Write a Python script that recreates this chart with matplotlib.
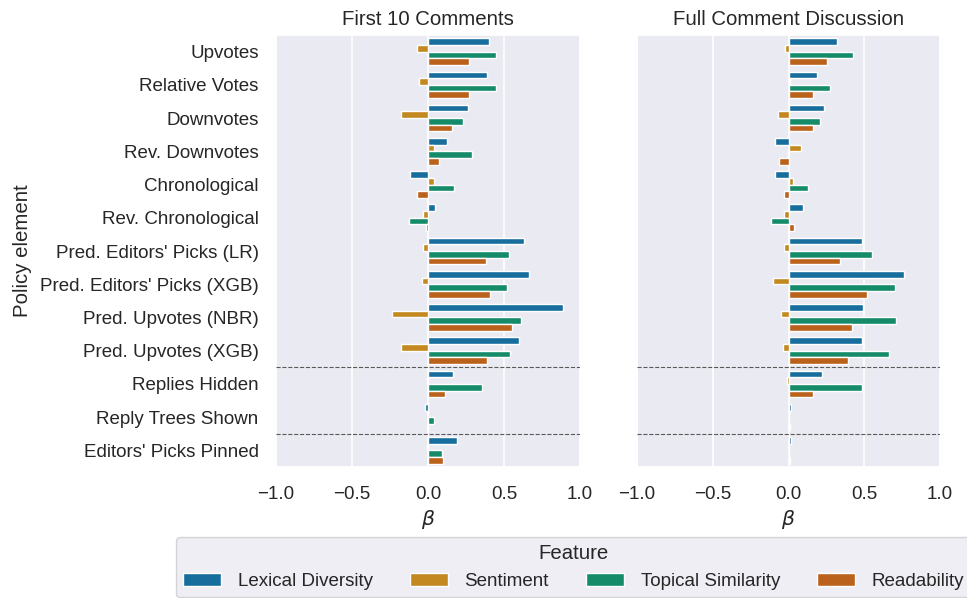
import matplotlib
matplotlib.use("Agg")
import matplotlib.pyplot as plt
import seaborn as sns
import numpy as np
from matplotlib.patches import Patch

sns.set_theme(style="darkgrid", context="notebook", font_scale=1.225)
plt.rcParams['font.family'] = ['Liberation Sans', 'DejaVu Sans']

policies = ["Upvotes", "Relative Votes", "Downvotes", "Rev. Downvotes", "Chronological",
            "Rev. Chronological", "Pred. Editors' Picks (LR)", "Pred. Editors' Picks (XGB)",
            "Pred. Upvotes (NBR)", "Pred. Upvotes (XGB)", "Replies Hidden",
            "Reply Trees Shown", "Editors' Picks Pinned"]
features = ["Lexical Diversity", "Sentiment", "Topical Similarity", "Readability"]
panel_titles = ["First 10 Comments", "Full Comment Discussion"]

# First 10 comments
first10_lexical = [0.40, 0.385, 0.26, 0.128, -0.117, 0.043, 0.633, 0.665, 0.887, 0.60, 0.167, -0.017, 0.19]
first10_sentiment = [-0.07, -0.06, -0.175, 0.037, 0.04, -0.03, -0.035, -0.04, -0.24, -0.18, -0.005, 0.0, -0.006]
first10_topical = [0.445, 0.445, 0.23, 0.29, 0.174, -0.126, 0.535, 0.52, 0.613, 0.54, 0.357, 0.037, 0.09]
first10_readability = [0.27, 0.27, 0.157, 0.07, -0.07, -0.013, 0.383, 0.41, 0.552, 0.39, 0.11, 0.0, 0.10]

# Full comment discussion
full_lexical = [0.318, 0.19, 0.234, -0.09, -0.089, 0.097, 0.483, 0.764, 0.494, 0.483, 0.219, 0.015, 0.017]
full_sentiment = [-0.02, 0.01, -0.07, 0.082, 0.03, -0.028, -0.028, -0.10, -0.05, -0.037, -0.011, 0.002, 0.0]
full_topical = [0.424, 0.275, 0.208, -0.004, 0.132, -0.117, 0.548, 0.706, 0.712, 0.665, 0.483, 0.0, 0.0]
full_readability = [0.255, 0.165, 0.162, -0.065, -0.032, 0.039, 0.34, 0.515, 0.418, 0.39, 0.16, 0.01, 0.01]

panels = [
    [first10_lexical, first10_sentiment, first10_topical, first10_readability],
    [full_lexical, full_sentiment, full_topical, full_readability],
]

base = sns.color_palette("colorblind", 4)
colors = [sns.desaturate(c, 0.75) for c in base]

W, H = 967, 598
fig = plt.figure(figsize=(W / 100, H / 100), dpi=100)
ax_l = fig.add_axes([276 / W, 1 - 467 / H, 304 / W, 432 / H])
ax_r = fig.add_axes([637 / W, 1 - 467 / H, 303 / W, 432 / H], sharey=ax_l)

y = np.arange(len(policies))
nh = len(features)
bh = 0.8 / nh
for ax, series, title in zip([ax_l, ax_r], panels, panel_titles):
    for i, (vals, col) in enumerate(zip(series, colors)):
        ax.barh(y - 0.4 + bh * (i + 0.5), vals, height=bh, color=col,
                edgecolor="white", linewidth=1.0, zorder=2)
    ax.axhline(9.5, color="0.35", linestyle="--", linewidth=0.8, zorder=3)
    ax.axhline(11.5, color="0.35", linestyle="--", linewidth=0.8, zorder=3)
    ax.set_xlim(-1, 1)
    ax.set_xticks([-1.0, -0.5, 0.0, 0.5, 1.0])
    ax.grid(axis="y", visible=False)
    ax.grid(axis="x", visible=True, color="white", linewidth=1.2)
    ax.set_axisbelow(True)
    ax.set_title(title, pad=7)
    ax.set_xlabel(r"$\beta$", labelpad=3.5)
    ax.tick_params(axis="x", pad=7.5)

ax_l.set_yticks(y)
ax_l.set_yticklabels(policies)
ax_l.set_ylim(len(policies) - 0.5, -0.5)
ax_l.tick_params(axis="y", pad=6.5)
ax_l.set_ylabel("Policy element", labelpad=6)
ax_r.tick_params(axis="y", labelleft=False)
ax_r.set_ylabel("")

handles = [Patch(facecolor=c, edgecolor="white", label=f) for c, f in zip(colors, features)]
fig.legend(handles=handles, title="Feature", ncol=4, loc="upper left",
           bbox_to_anchor=(176 / W, 1 - 537 / H), borderaxespad=0.0,
           handlelength=2.0, handletextpad=0.9, columnspacing=2.0)

fig.savefig("out.png", dpi=100)
